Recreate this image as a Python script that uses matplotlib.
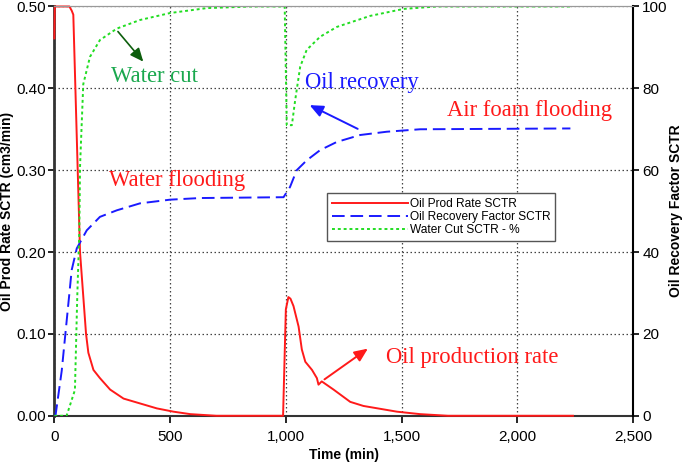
import matplotlib
matplotlib.use("Agg")
import matplotlib.pyplot as plt
from matplotlib.ticker import FuncFormatter, MultipleLocator

# Oil production rate (cm3/min), the early part sits on the 0.5 axis limit
rate_t = [0, 2, 65, 75, 82, 101, 111, 137, 147, 169, 197, 241, 299, 371, 443,
          515, 587, 700, 988, 1000, 1011, 1020, 1033, 1055, 1069, 1084, 1113,
          1134, 1141, 1155, 1206, 1278, 1335, 1480, 1580, 1700, 2240]
rate_v = [0.461, 0.50, 0.50, 0.495, 0.49, 0.30, 0.20, 0.10, 0.077, 0.056, 0.046,
          0.032, 0.021, 0.015, 0.009, 0.005, 0.002, 0.0, 0.0, 0.130, 0.145,
          0.143, 0.134, 0.109, 0.081, 0.066, 0.056, 0.046, 0.038, 0.042, 0.032,
          0.017, 0.012, 0.005, 0.002, 0.0, 0.0]

# Oil recovery factor (%)
rec_t = [0, 5, 32, 75, 97, 140, 197, 270, 370, 500, 630, 990, 1018, 1047, 1090,
         1148, 1220, 1321, 1436, 1580, 2229]
rec_v = [0, 0, 11, 35.6, 40.9, 45.3, 48.6, 50.2, 51.9, 52.8, 53.2, 53.4, 55.9,
         60.0, 62.4, 64.9, 66.9, 68.6, 69.4, 70.0, 70.2]

# Water cut (%)
wc_t = [0, 53, 89, 99, 108, 111, 125, 154, 197, 270, 370, 500, 658, 850, 995,
        1004, 1026, 1040, 1062, 1090, 1148, 1220, 1364, 1508, 1652, 2229]
wc_v = [0, 0, 6.3, 29, 45, 60.8, 81, 87.7, 91.8, 94.6, 96.7, 98.4, 99.6, 100,
        100, 71, 71, 77, 85.3, 89.4, 92.6, 95, 97.7, 99.4, 100, 100]

fig = plt.figure(figsize=(6.85, 4.63), dpi=100)
ax = fig.add_axes([0.0793, 0.102, 0.845, 0.884])
ax2 = ax.twinx()

l1, = ax.plot(rate_t, rate_v, color="#ff1a1a", lw=1.4, label="Oil Prod Rate SCTR",
              clip_on=False, zorder=5)
l2, = ax2.plot(rec_t, rec_v, color="#1a1aff", lw=1.4, ls=(0, (6.5, 3)),
               label="Oil Recovery Factor SCTR")
l3, = ax2.plot(wc_t, wc_v, color="#22dd22", lw=1.4, ls=(0, (1.5, 1.5)),
               label="Water Cut SCTR - %")

ax.set_xlim(0, 2500)
ax.set_ylim(0, 0.5)
ax2.set_ylim(0, 100)
ax.xaxis.set_major_locator(MultipleLocator(500))
ax.yaxis.set_major_locator(MultipleLocator(0.1))
ax2.yaxis.set_major_locator(MultipleLocator(20))
ax.xaxis.set_major_formatter(FuncFormatter(lambda v, p: f"{int(v):,}"))
ax.yaxis.set_major_formatter(FuncFormatter(lambda v, p: f"{v:.2f}"))

ax.grid(True, color="#444444", ls=(0, (1.2, 2)), lw=0.9)
ax.set_axisbelow(True)

for lab in ax.get_xticklabels() + ax.get_yticklabels() + ax2.get_yticklabels():
    lab.set_fontfamily("Liberation Sans")
    lab.set_fontsize(11)
ax.tick_params(axis="y", length=4.5, width=1.2, pad=1.5)
ax.tick_params(axis="x", length=5, width=1.2, pad=5)
ax2.tick_params(length=4.5, width=1.2, pad=2)

ax.spines["left"].set_color("#333333")
ax.spines["left"].set_linewidth(2)
ax.spines["bottom"].set_color("#333333")
ax.spines["bottom"].set_linewidth(1.5)
ax2.spines["left"].set_visible(False)
ax2.spines["bottom"].set_visible(False)
ax2.spines["top"].set_color("#999999")
ax.spines["top"].set_color("#999999")
ax2.spines["right"].set_color("black")
ax2.spines["right"].set_linewidth(1.5)
ax.spines["right"].set_visible(False)

lab_font = dict(family="Liberation Sans", size=10, weight="bold")
ax.set_xlabel("Time (min)", fontdict=lab_font, labelpad=3)
ax.set_ylabel("Oil Prod Rate SCTR (cm3/min)", fontdict=lab_font, labelpad=2)
ax2.set_ylabel("Oil Recovery Factor SCTR", fontdict=lab_font, labelpad=1)

leg = ax2.legend(handles=[l1, l2, l3], loc="upper left",
                 bbox_to_anchor=(0.471, 0.544),
                 prop={"family": "Liberation Sans", "size": 8.6},
                 handlelength=6.4, handletextpad=0.15, labelspacing=0.1,
                 borderpad=0.4, borderaxespad=0, fancybox=False, framealpha=1)
leg.get_frame().set_edgecolor("#555555")

serif = "Liberation Serif"
fs = 16.3
ax.text(432, 0.415, "Water cut", color="#1aa84e", fontsize=fs, family=serif,
        ha="center", va="center")
ax.text(531, 0.288, "Water flooding", color="#ff1a1a", fontsize=fs, family=serif,
        ha="center", va="center")
ax.text(1330, 0.407, "Oil recovery", color="#1a1aff", fontsize=fs, family=serif,
        ha="center", va="center")
ax.text(2052, 0.373, "Air foam flooding", color="#ff1a1a", fontsize=fs, family=serif,
        ha="center", va="center")
ax.text(1805, 0.0716, "Oil production rate", color="#ff1a1a", fontsize=fs, family=serif,
        ha="center", va="center")

ax.annotate("", xy=(392, 0.430), xytext=(267, 0.472),
            arrowprops=dict(arrowstyle="-|>,head_length=0.8,head_width=0.35",
                            color="#0d5e0d", lw=1.2))
ax.annotate("", xy=(1092, 0.381), xytext=(1321, 0.349),
            arrowprops=dict(arrowstyle="-|>,head_length=0.8,head_width=0.35",
                            color="#1a1aff", lw=1.4))
ax.annotate("", xy=(1364, 0.084), xytext=(1157, 0.0425),
            arrowprops=dict(arrowstyle="-|>,head_length=0.8,head_width=0.35",
                            color="#ff1a1a", lw=1.4))

fig.savefig("out.png", dpi=100)
